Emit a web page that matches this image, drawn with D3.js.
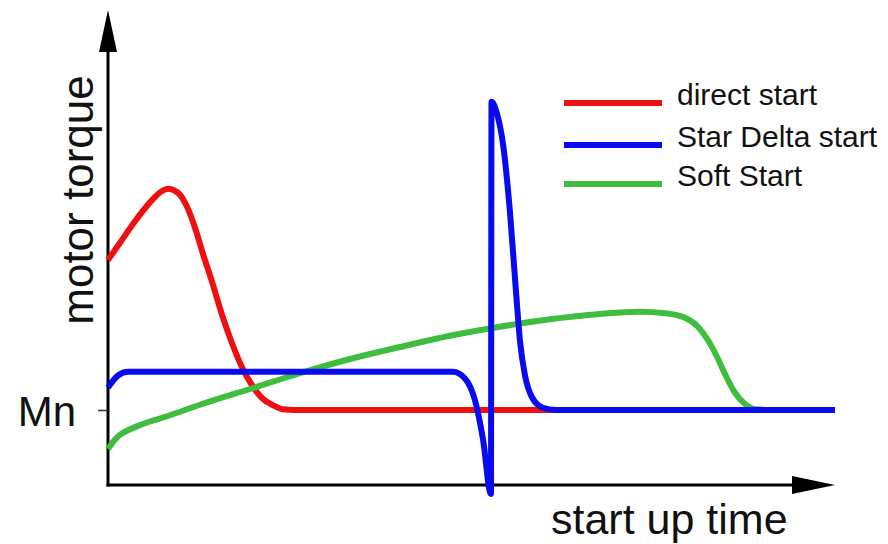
<!DOCTYPE html>
<html>
<head>
<meta charset="utf-8">
<script src="https://cdn.jsdelivr.net/npm/d3@7"></script>
<style>
    body { margin: 0; background: #fff; }
    svg { display: block; font-family: "Liberation Sans", Arial, sans-serif; }
</style>
</head>
<body>
<div id="chart"></div>
<script>
// Series names & colours (legend order)
let seriesNames = ["direct start", "Star Delta start", "Soft Start"];
let seriesColors = ["#ee1010", "#0a0af0", "#3ebd3e"];

// Time points (0..100 = full start up time) and torque (1 = Mn)
let directT = [0, 1.65, 3.44, 5.09, 6.46, 7.43, 8.25, 9.08, 9.9, 10.87, 11.97, 13.07, 14.31, 15.68, 17.06, 18.43, 19.81, 21.18, 22.56, 24.07, 25.72, 62.17];
let directV = [3.0, 3.23, 3.48, 3.69, 3.84, 3.92, 3.95, 3.93, 3.87, 3.71, 3.43, 3.08, 2.71, 2.27, 1.89, 1.57, 1.33, 1.16, 1.07, 1.01, 1.0, 1.0];

let starDeltaT = [0, 1.38, 2.75, 47.45, 49.1, 50.48, 51.58, 52.68, 52.75, 53.51, 54.33, 55.3, 56.12, 56.67, 57.36, 58.32, 59.83, 61.62, 100];
let starDeltaV = [1.30, 1.46, 1.51, 1.51, 1.42, 1.13, 0.61, -0.12, 5.11, 4.95, 4.55, 3.63, 2.58, 1.92, 1.46, 1.17, 1.03, 1.0, 1.0];

let softT = [0, 0.83, 1.65, 2.75, 4.4, 8.53, 12.65, 19.53, 26.41, 33.29, 40.17, 47.04, 53.92, 60.8, 67.68, 73.18, 76.62, 79.36, 81.15, 82.53, 83.77, 85.01, 86.24, 87.62, 89.13, 91.06, 100];
let softV = [0.48, 0.59, 0.67, 0.73, 0.8, 0.93, 1.07, 1.28, 1.49, 1.68, 1.84, 1.99, 2.11, 2.21, 2.28, 2.31, 2.29, 2.23, 2.11, 1.93, 1.71, 1.45, 1.23, 1.08, 1.01, 1.0, 1.0];

// Y tick (only the nominal torque)
let yTickValues = [1];
let yTickLabels = ["Mn"];

let xLabel = "start up time";
let yLabel = "motor torque";

let fullWidth = 888, fullHeight = 544;

let svg = d3.select("#chart")
    .append("svg")
    .attr("width", fullWidth)
    .attr("height", fullHeight);

// Scales
let x = d3.scaleLinear().domain([0, 100]).range([108, 835]);
let y = d3.scaleLinear().domain([0, 1]).range([485, 410]);

let zip = (ts, vs) => ts.map((t, i) => ({ t: t, v: vs[i] }));
// drawing order: red, green, blue on top
let series = [
    zip(directT, directV),
    zip(softT, softV),
    zip(starDeltaT, starDeltaV)
];
let seriesColorOrder = [seriesColors[0], seriesColors[2], seriesColors[1]];

// Axis lines with arrow heads
let x0 = x(0), yBase = y(0);
svg.append("line")
    .attr("x1", x0).attr("y1", 50)
    .attr("x2", x0).attr("y2", yBase + 1.5)
    .attr("stroke", "#000").attr("stroke-width", 3);
svg.append("path")
    .attr("d", `M${x0},10 L${x0 - 9},52 L${x0 + 9},52 Z`)
    .attr("fill", "#000");

svg.append("line")
    .attr("x1", x0 - 1.5).attr("y1", yBase)
    .attr("x2", 795).attr("y2", yBase)
    .attr("stroke", "#000").attr("stroke-width", 3);
svg.append("path")
    .attr("d", `M835,${yBase} L792,${yBase - 9} L792,${yBase + 9} Z`)
    .attr("fill", "#000");

// Mn tick
let yAxis = svg.append("g")
    .attr("transform", `translate(${x0},0)`)
    .call(d3.axisLeft(y)
        .tickValues(yTickValues)
        .tickFormat((d, i) => yTickLabels[i])
        .tickSize(10)
        .tickPadding(22));
yAxis.select(".domain").remove();
yAxis.selectAll("line").attr("stroke", "#333").attr("stroke-width", 1.5);
yAxis.selectAll("text")
    .attr("dy", "0.36em")
    .style("font-size", "42px")
    .style("font-family", "Liberation Sans, Arial, sans-serif")
    .attr("fill", "#111");

// Curves
let line = d3.line()
    .x(d => x(d.t))
    .y(d => y(d.v))
    .curve(d3.curveMonotoneX);

svg.selectAll(".curve")
    .data(series)
    .enter()
    .append("path")
    .attr("class", "curve")
    .attr("d", line)
    .attr("fill", "none")
    .attr("stroke", (d, i) => seriesColorOrder[i])
    .attr("stroke-width", 6)
    .attr("stroke-linejoin", "round");

// Axis titles
svg.append("text")
    .attr("transform", "translate(93,200) rotate(-90)")
    .attr("text-anchor", "middle")
    .style("font-size", "44px")
    .attr("fill", "#111")
    .text(yLabel);

svg.append("text")
    .attr("x", 551)
    .attr("y", 534)
    .style("font-size", "43px")
    .attr("fill", "#111")
    .text(xLabel);

// Legend
let legend = svg.append("g");
let legendY = [103, 145, 184];
seriesNames.forEach((name, i) => {
    legend.append("line")
        .attr("x1", 564).attr("x2", 662)
        .attr("y1", legendY[i]).attr("y2", legendY[i])
        .attr("stroke", seriesColors[i])
        .attr("stroke-width", 6);
    legend.append("text")
        .attr("x", 677)
        .attr("y", legendY[i] + 2)
        .style("font-size", "30px")
        .attr("fill", "#111")
        .text(name);
});
</script>
</body>
</html>
